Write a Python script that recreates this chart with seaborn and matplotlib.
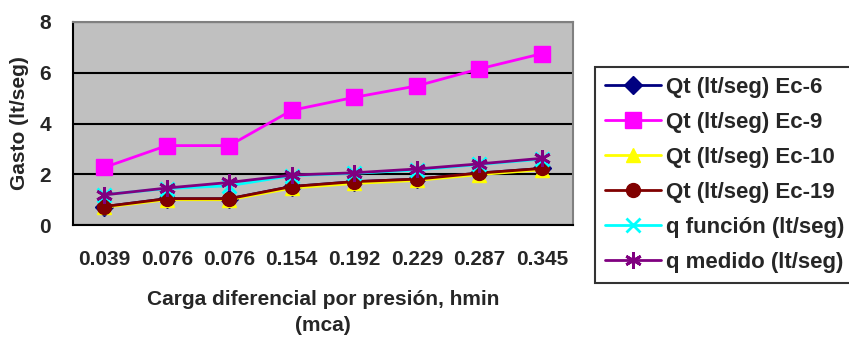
import pandas as pd
import matplotlib.pyplot as plt
import seaborn as sns

# data
cargas = ["0.039", "0.076", "0.076", "0.154", "0.192", "0.229", "0.287", "0.345"]
ec6 = [0.73, 1.04, 1.04, 1.52, 1.71, 1.81, 2.05, 2.23]
ec9 = [2.27, 3.13, 3.13, 4.52, 5.03, 5.48, 6.15, 6.75]
ec10 = [0.70, 1.00, 1.00, 1.46, 1.64, 1.76, 1.99, 2.18]
ec19 = [0.73, 1.04, 1.04, 1.52, 1.71, 1.81, 2.05, 2.23]
q_funcion = [1.20, 1.44, 1.55, 1.95, 2.04, 2.17, 2.39, 2.60]
q_medido = [1.19, 1.46, 1.68, 1.97, 2.06, 2.21, 2.41, 2.63]

series = {
    "Qt (lt/seg) Ec-6": ec6,
    "Qt (lt/seg) Ec-9": ec9,
    "Qt (lt/seg) Ec-10": ec10,
    "Qt (lt/seg) Ec-19": ec19,
    "q función (lt/seg)": q_funcion,
    "q medido (lt/seg)": q_medido,
}
colores = ["#000080", "#FF00FF", "#FFFF00", "#800000", "#00FFFF", "#800080"]
marcas = ["D", "s", "^", "o", "x", (6, 2, 0)]
tamanos = [9, 11, 10, 10, 10, 12]

rows = []
for name, vals in series.items():
    for i, v in enumerate(vals):
        rows.append({"pos": i, "gasto": v, "serie": name})
df = pd.DataFrame(rows)

sns.set_style("white")
plt.rcParams['font.family'] = ['Liberation Sans', 'DejaVu Sans']
plt.rcParams['font.weight'] = 'bold'

fig = plt.figure(figsize=(8.49, 3.37), dpi=100)
ax = fig.add_axes([0.086, 0.332, 0.589, 0.603])
ax.set_facecolor("#C0C0C0")

for k, name in enumerate(series):
    sub = df[df["serie"] == name]
    sns.lineplot(data=sub, x="pos", y="gasto", ax=ax, color=colores[k],
                 marker=marcas[k], markersize=tamanos[k], markeredgecolor=colores[k],
                 markeredgewidth=2 if k >= 4 else 1, linewidth=2, label=name)

ax.set_xlim(-0.5, 7.5)
ax.set_ylim(0, 8)
ax.set_yticks([0, 2, 4, 6, 8])
ax.set_xticks([i - 0.5 for i in range(9)])
ax.set_xticklabels([])
ax.set_xticks(range(8), minor=True)
ax.set_xticklabels(cargas, minor=True, fontweight="bold")
ax.tick_params(axis="x", which="minor", length=0, pad=18, labelsize=15)
ax.tick_params(axis="x", which="major", length=6, width=1.2, direction="out", color="black")
ax.tick_params(axis="y", length=6, width=1.2, direction="out", color="black", labelsize=15, pad=10)
for t in ax.get_yticklabels():
    t.set_fontweight("bold")
ax.grid(axis="y", color="black", linewidth=1.5)
ax.set_axisbelow(True)
for s in ["left", "bottom"]:
    ax.spines[s].set_color("black")
    ax.spines[s].set_linewidth(1.5)
for s in ["top", "right"]:
    ax.spines[s].set_color("#808080")
    ax.spines[s].set_linewidth(1.5)

ax.set_ylabel("Gasto (lt/seg)", fontsize=15, fontweight="bold", labelpad=7)
ax.set_xlabel("Carga diferencial por presión, hmin\n(mca)", fontsize=15,
              fontweight="bold", labelpad=15, linespacing=1.5)

leg = ax.legend(loc="upper left", bbox_to_anchor=(1.044, 0.778), fontsize=16,
                frameon=True, fancybox=False, edgecolor="black", handlelength=2.5,
                handletextpad=0.25, borderpad=0.45, labelspacing=0.63,
                borderaxespad=0)
leg.get_frame().set_linewidth(1.5)
for t in leg.get_texts():
    t.set_fontweight("bold")

fig.savefig("out.png", dpi=100)
